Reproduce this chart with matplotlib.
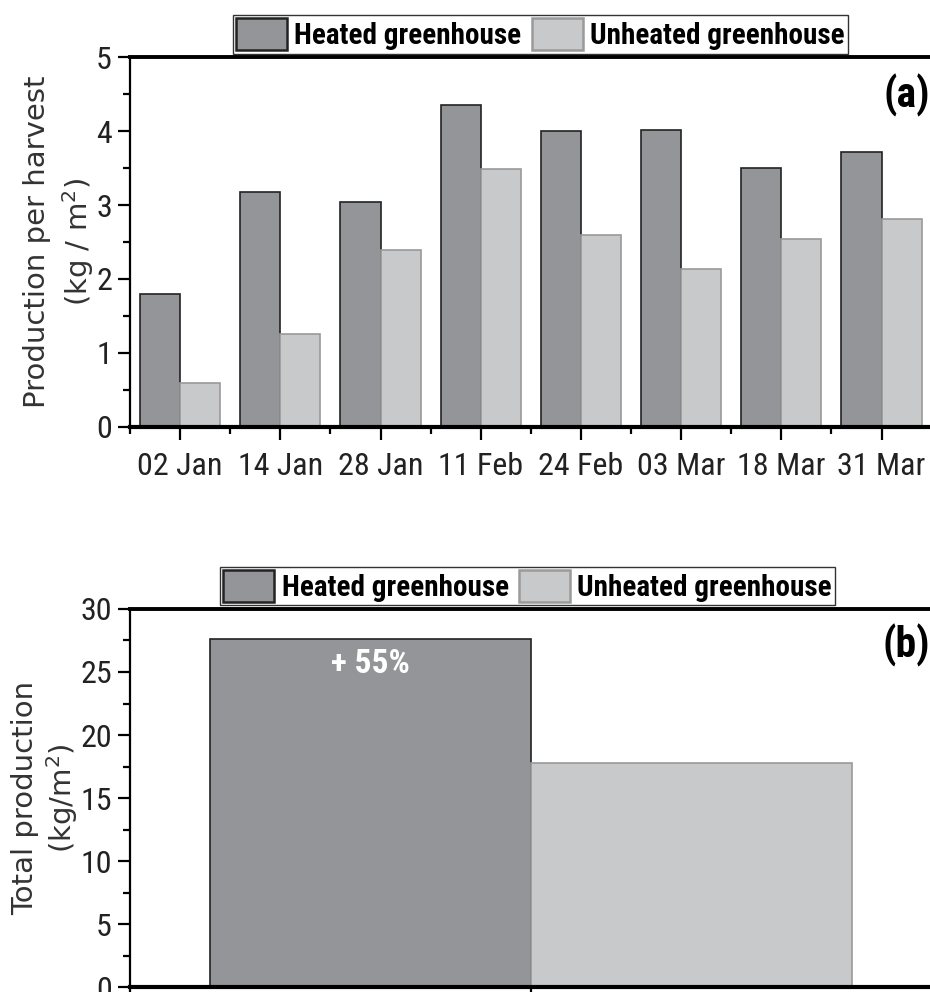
import matplotlib
matplotlib.use("Agg")
import matplotlib.pyplot as plt
import numpy as np
from matplotlib.patches import Patch

# harvest dates and production per harvest (kg/m2)
dates = ["02 Jan", "14 Jan", "28 Jan", "11 Feb", "24 Feb", "03 Mar", "18 Mar", "31 Mar"]
heated = [1.80, 3.17, 3.04, 4.35, 4.00, 4.02, 3.50, 3.72]
unheated = [0.60, 1.26, 2.39, 3.49, 2.59, 2.13, 2.54, 2.81]

# total production (kg/m2)
total_heated = 27.6
total_unheated = 17.8
series_names = ["Heated greenhouse", "Unheated greenhouse"]

dark = "#939598"
light = "#c8c9cb"
narrow = ["Roboto Condensed", "Liberation Sans Narrow", "DejaVu Sans"]

fig = plt.figure(figsize=(9.3, 9.92), dpi=100)
ax1 = fig.add_axes([0.1398, 0.5696, 0.862, 0.3729])
ax2 = fig.add_axes([0.1398, 0.005, 0.862, 0.3811])


def style_axes(ax):
    ax.spines["right"].set_visible(False)
    ax.spines["left"].set_linewidth(1.6)
    ax.spines["top"].set_linewidth(2.8)
    ax.spines["bottom"].set_linewidth(3.0)
    ax.tick_params(axis="both", which="major", direction="out", length=9, width=1.6,
                   labelsize=23, pad=4)
    ax.tick_params(axis="both", which="minor", direction="out", length=5, width=1.6)
    for lbl in ax.get_xticklabels() + ax.get_yticklabels():
        lbl.set_family(narrow)
        lbl.set_stretch("condensed")
        lbl.set_color("#222222")


def add_legend(ax, x):
    handles = [Patch(facecolor=dark, edgecolor="#222222", linewidth=1.8),
               Patch(facecolor=light, edgecolor="#9a9a9a", linewidth=1.8)]
    leg = ax.legend(handles, series_names, loc="lower center", bbox_to_anchor=(x, 1.0),
                    ncol=2, frameon=True, fancybox=False, handlelength=1.75,
                    handleheight=1.3, handletextpad=0.25, columnspacing=0.35,
                    borderpad=0.12, borderaxespad=0.12,
                    prop={"family": narrow, "weight": "bold", "size": 21,
                          "stretch": "condensed"})
    leg.get_frame().set_edgecolor("black")
    leg.get_frame().set_linewidth(1.0)


# (a) production per harvest
x = np.arange(len(dates))
ax1.bar(x - 0.2, heated, width=0.4, color=dark, edgecolor="#222222", linewidth=1.2)
ax1.bar(x + 0.2, unheated, width=0.4, color=light, edgecolor="#9a9a9a", linewidth=1.2)
ax1.set_xlim(-0.5, 7.5)
ax1.set_ylim(0, 5)
ax1.set_xticks(x)
ax1.set_xticklabels(dates)
ax1.set_xticks(np.arange(-0.5, 8, 1), minor=True)
ax1.set_yticks(np.arange(0, 6, 1))
ax1.set_yticks(np.arange(0.5, 5, 1), minor=True)
style_axes(ax1)
ax1.tick_params(axis="x", which="major", pad=9)
ax1.set_ylabel("Production per harvest\n(kg / m$^2$)", fontsize=21, color="#333333",
               linespacing=1.3)
ax1.yaxis.set_label_coords(-0.043, 0.5)
ax1.text(0.998, 0.955, "(a)", transform=ax1.transAxes, ha="right", va="top",
         fontsize=30, fontweight="bold", family=narrow, stretch="condensed")
add_legend(ax1, 0.512)

# (b) total production
ax2.bar([-0.2, 0.2], [total_heated, total_unheated], width=0.4,
        color=[dark, light], edgecolor=["#222222", "#9a9a9a"], linewidth=1.2)
ax2.set_xlim(-0.5, 0.5)
ax2.set_ylim(0, 30)
ax2.set_xticks([0])
ax2.set_xticklabels([""])
ax2.set_xticks([-0.5, 0.5], minor=True)
ax2.set_yticks(np.arange(0, 31, 5))
ax2.set_yticks(np.arange(2.5, 30, 5), minor=True)
style_axes(ax2)
ax2.set_ylabel("Total production\n(kg/m$^2$)", fontsize=21, color="#333333",
               linespacing=1.15)
ax2.yaxis.set_label_coords(-0.063, 0.5)
ax2.text(0.998, 0.96, "(b)", transform=ax2.transAxes, ha="right", va="top",
         fontsize=30, fontweight="bold", family=narrow, stretch="condensed")
pct = (total_heated / total_unheated - 1) * 100
ax2.text(-0.2, 25.6, "+ %d%%" % round(pct), ha="center", va="center", color="white",
         fontsize=24, fontweight="bold", family=narrow, stretch="condensed")
add_legend(ax2, 0.496)

fig.savefig("out.png", dpi=100)
